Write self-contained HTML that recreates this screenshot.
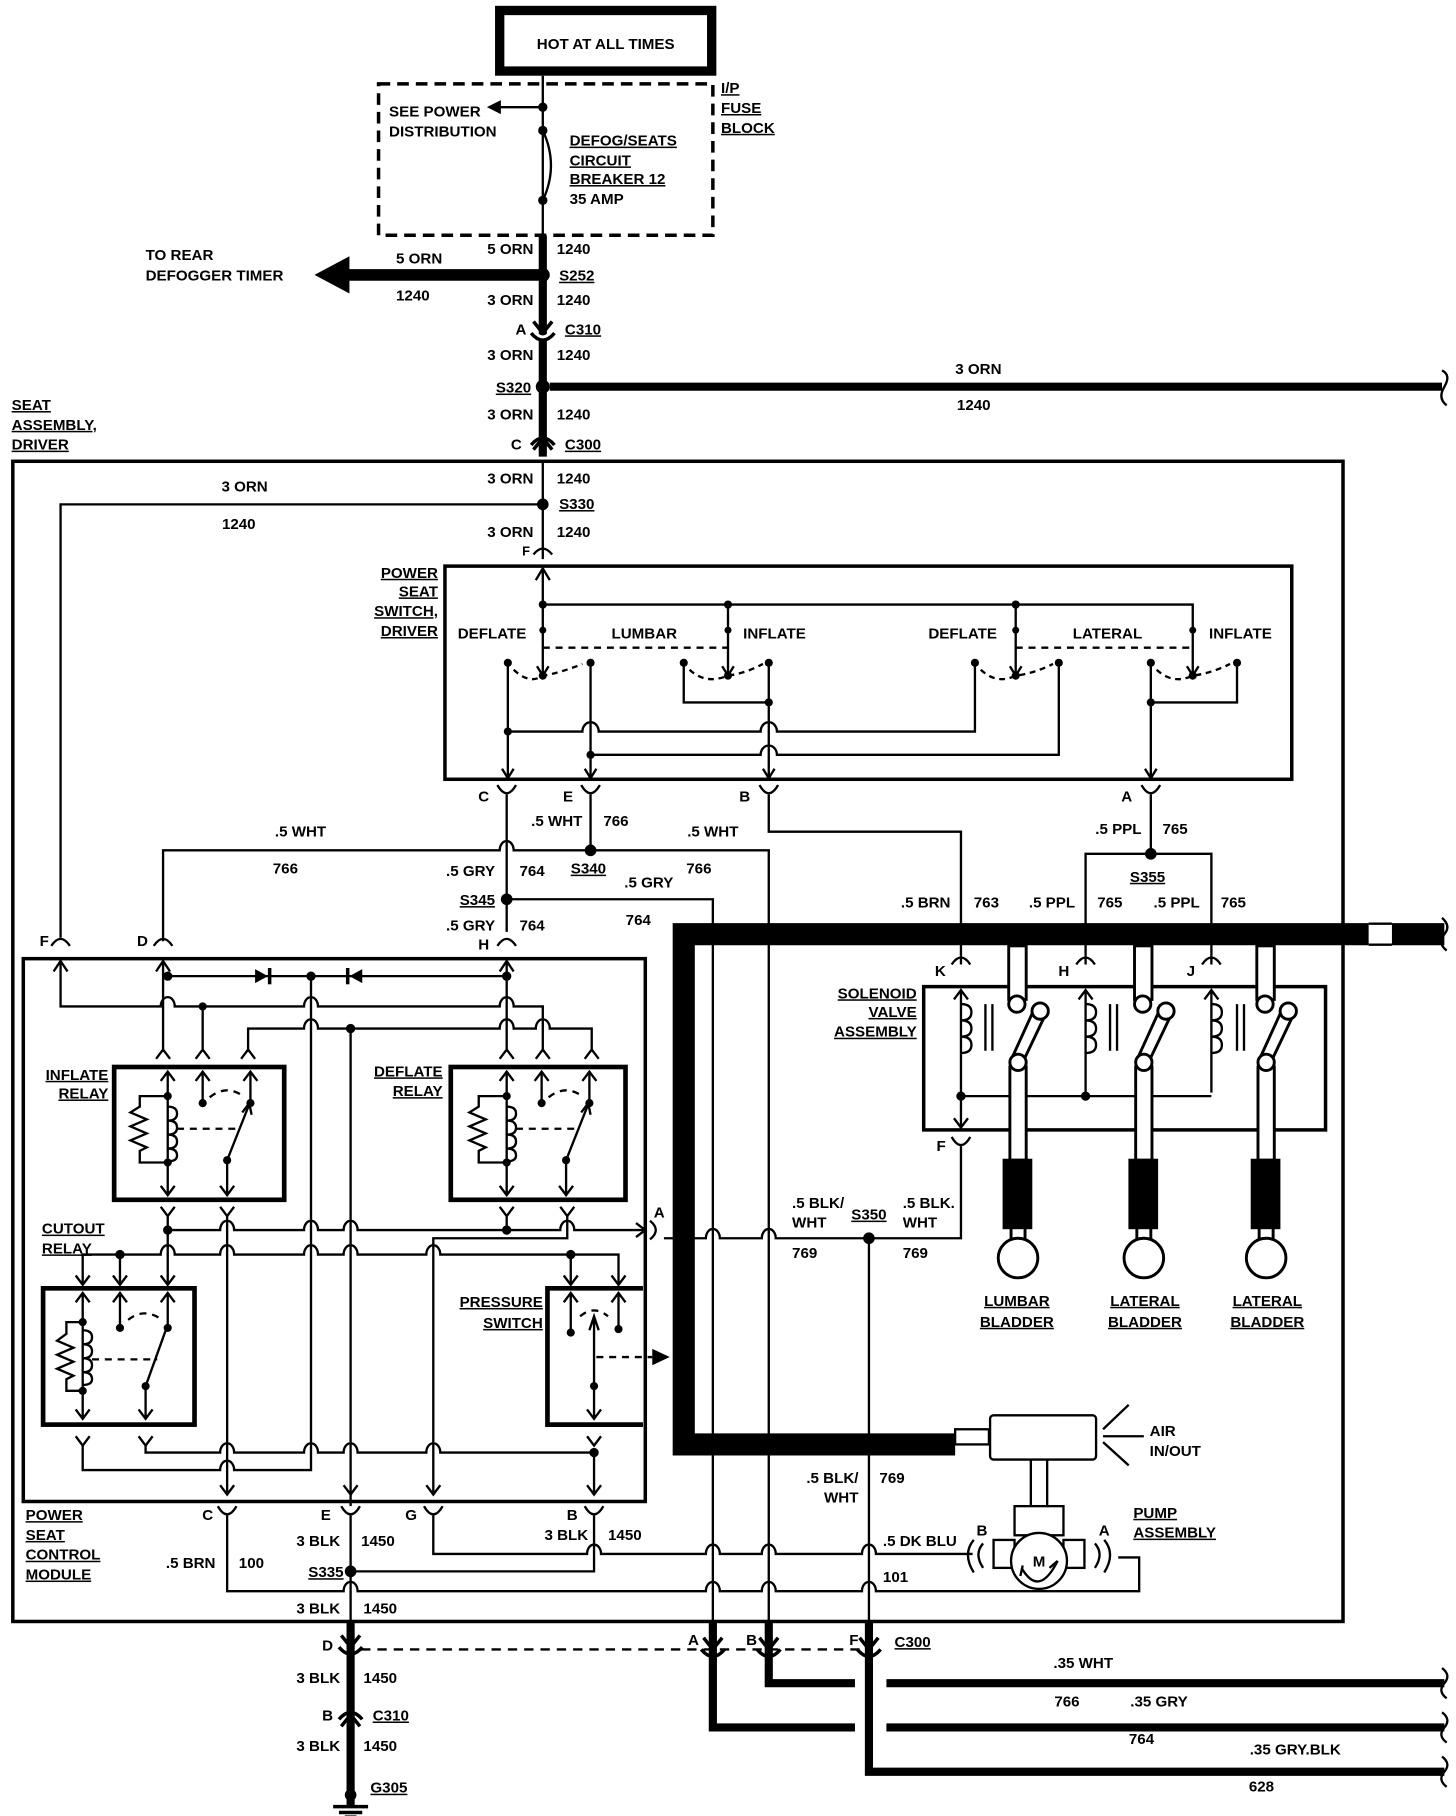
<!DOCTYPE html>
<html><head><meta charset="utf-8"><style>
html,body{margin:0;padding:0;background:#fff;}
svg{display:block;}
text{font-family:"Liberation Sans",sans-serif;font-weight:bold;font-size:13px;fill:#000;}
.u{text-decoration:underline;}
.e{text-anchor:end;}
.m{text-anchor:middle;}
</style></head><body>
<svg width="1456" height="1816" viewBox="0 0 1250 1559" preserveAspectRatio="none" xmlns="http://www.w3.org/2000/svg">
<rect width="1250" height="1559" fill="#fff"/>
<g fill="none" stroke="#000" stroke-width="2">
<!-- HOT AT ALL TIMES -->
<rect x="429" y="9" width="182" height="52" stroke-width="8"/>
<rect x="325" y="72" width="287" height="130" stroke-width="3" stroke-dasharray="10,6"/>
<path d="M466 65V172"/>
<path d="M466 92H428"/>
<path d="M466 112Q480 142 466 172"/>
<path d="M466 172V202"/>
<path d="M466 202V392" stroke-width="7"/>
<path d="M466 236H298" stroke-width="10"/>
<path d="M472 332H1238" stroke-width="7"/>
<path d="M1238 318Q1246 322 1240 332Q1234 342 1242 348"/>
<!-- C310 top -->
<path d="M458 276L466 286L474 276" stroke-width="3"/>
<path d="M457 283Q466 296 475 283" stroke-width="3" stroke="#fff"/>
<path d="M456 286Q466 298 476 286" stroke-width="3"/>
<!-- C300 -->
<path d="M456 382Q466 370 476 382" stroke-width="3"/>
<path d="M458 386L466 376L474 386" stroke-width="3"/>
<!-- seat box -->
<rect x="11" y="396" width="1142" height="996" stroke-width="3"/>
<path d="M466 396V480"/>
<path d="M466 433H52V805"/>
<path d="M458 476Q466 466 474 476"/>
<!-- power seat switch -->
<rect x="382" y="486" width="727" height="183" stroke-width="3"/>
<path d="M466 488V580M460 498L466 488L472 498"/>
<path d="M466 519H1024V580M625 519V580M872 519V580"/>
<path d="M466 556H625M872 556H1024" stroke-dasharray="6,5"/>
<path d="M461 572L466 580L471 572M620 572L625 580L630 572M867 572L872 580L877 572M1019 572L1024 580L1029 572"/>
<path d="M441 575Q455 588 466 580Q480 578 500 570M592 575Q606 588 625 580Q640 578 655 570M842 575Q856 588 872 580Q888 578 904 570M993 575Q1007 588 1024 580Q1040 578 1056 570" stroke-dasharray="5,4"/>
<path d="M436 569V668M507 569V668M587 569V603H660M660 569V668M837 569V628H667A7 8 0 0 0 653 628H514A7 8 0 0 0 500 628H436M909 569V648H667A7 8 0 0 0 653 648H507M988 569V668M988 603H1062V569"/>
<path d="M431 660L436 668L441 660M502 660L507 668L512 660M655 660L660 668L665 660M983 660L988 668L993 660"/>
<!-- connectors below switch -->
<path d="M427 674Q435 688 443 674M499 674Q507 688 515 674M652 674Q660 688 668 674M980 674Q988 688 996 674"/>
<path d="M435 682V800M507 682V730M660 682V714H825V820M988 682V733"/>
<path d="M140 808V730H429A6 8 0 0 1 441 730H660V1400"/>
<path d="M435 772H612V1400"/>
<path d="M932 820V733H1040V820"/>
<!-- top connectors of module -->
<path d="M44 812Q52 800 60 812M132 812Q140 800 148 812M427 812Q435 800 443 812"/>
<!-- thick pipe -->
<path d="M1175 802H587V1240H820" stroke-width="19"/>
<path d="M1195 802H1240" stroke-width="19"/>
<path d="M1175 793H1195M1175 811H1195" stroke-width="2"/>
<path d="M1238 788Q1246 795 1240 802Q1234 810 1242 816"/>
<!-- solenoid valve -->
<rect x="793" y="847" width="345" height="123" stroke-width="3"/>
<path d="M817 828Q825 816 833 828M924 828Q932 816 940 828M1032 828Q1040 816 1048 828"/>
<path d="M825 820V828M932 820V828M1040 820V828"/>
<path d="M825 851V968M819 858L825 850L831 858M819 960L825 968L831 960"/>
<path d="M932 851V941M926 858L932 850L938 858M1040 851V938M1034 858L1040 850L1046 858"/>
<path d="M825 941H1040"/>
<path d="M825 862q9 0 9 7q0 7-9 7q9 0 9 7q0 7-9 7q9 0 9 7q0 7-9 7M932 862q9 0 9 7q0 7-9 7q9 0 9 7q0 7-9 7q9 0 9 7q0 7-9 7M1040 862q9 0 9 7q0 7-9 7q9 0 9 7q0 7-9 7q9 0 9 7q0 7-9 7"/>
<path d="M846 862V902M852 862V902M953 862V902M959 862V902M1062 862V902M1068 862V902"/>
<path d="M817 976Q825 990 833 976M825 984V1063H746M746 1063V1400"/>
<path d="M570 1063H606A6 8 0 0 1 618 1063H654A6 8 0 0 1 666 1063H746"/>
</g>
<!-- valves -->
<g stroke="#000" stroke-width="2.5" fill="#fff">
<g id="v1">
<rect x="866" y="812" width="15" height="46"/>
<circle cx="873" cy="862" r="7"/>
<path d="M868 910L888 866M878 912L898 870"/>
<circle cx="893" cy="868" r="7"/>
<rect x="867" y="916" width="14" height="80"/>
<circle cx="874" cy="912" r="7"/>
<rect x="862" y="996" width="23" height="58" fill="#000"/>
<rect x="868" y="1054" width="12" height="12"/>
<circle cx="874" cy="1080" r="17"/>
</g>
<use href="#v1" x="108"/>
<use href="#v1" x="213"/>
</g>
<g fill="none" stroke="#000" stroke-width="2">
<!-- control module -->
<rect x="20" y="823" width="534" height="466" stroke-width="3"/>
<path d="M46 834L52 825L58 834M134 834L140 825L146 834M429 834L435 825L441 834"/>
<path d="M52 826V864H138A6 8 0 0 1 150 864H261A6 8 0 0 1 273 864H429A6 8 0 0 1 441 864H466V903"/>
<path d="M140 826V903M435 826V903M144 838H435M174 864V903"/>
<path d="M213 903V883H261A6 8 0 0 1 273 883H429A6 8 0 0 1 441 883H460A6 8 0 0 1 472 883H508V903"/>
<path d="M267 838V1262H201A6 8 0 0 0 189 1262H71V1240"/>
<path d="M301 883V1293"/>
<!-- top Y connectors of relays -->
<path d="M134 909L140 901L146 909M168 909L174 901L180 909M207 909L213 901L219 909M429 909L435 901L441 909M460 909L466 901L472 909M502 909L508 901L514 909"/>
<!-- inflate relay -->
<rect x="98" y="916" width="146" height="114" stroke-width="4"/>
<rect x="387" y="916" width="150" height="114" stroke-width="4"/>
<g id="rl">
<path d="M144 920V1025M138 928L144 920L150 928M138 1018L144 1026L150 1018M174 920V947M168 928L174 920L180 928M215 920V947M209 928L215 920L221 928M195 996V1025M189 1018L195 1026L201 1018"/>
<path d="M195 996L214 948M208 955L214 947L216 957"/>
<path d="M144 941H120V950L112 955L126 961L112 967L126 973L112 979L126 985L120 988V998H144"/>
<path d="M144 950q8 0 8 6q0 6-8 6q8 0 8 6q0 6-8 6q8 0 8 6q0 6-8 6q8 0 8 6q0 5-8 5"/>
<path d="M152 969H205M180 942Q195 930 210 942" stroke-dasharray="6,5"/>
</g>
<use href="#rl" x="291"/>
<!-- lower connectors -->
<path d="M138 1036L144 1044L150 1036M189 1036L195 1044L201 1036M429 1036L435 1044L441 1036M481 1036L487 1044L493 1036"/>
<path d="M144 1044V1103M195 1044V1281M435 1044V1056M487 1044V1063H372V1281"/>
<path d="M144 1056H189A6 8 0 0 1 201 1056H261A6 8 0 0 1 273 1056H295A6 8 0 0 1 307 1056H481A6 8 0 0 1 493 1056H552"/>
<path d="M546 1050L554 1056L546 1062M558 1048Q568 1056 558 1064"/>
<path d="M71 1103V1077H138A6 8 0 0 1 150 1077H189A6 8 0 0 1 201 1077H261A6 8 0 0 1 273 1077H295A6 8 0 0 1 307 1077H366A6 8 0 0 1 378 1077H531V1103M103 1077V1103M490 1077V1103"/>
<path d="M65 1095L71 1103L77 1095M97 1095L103 1103L109 1095M138 1095L144 1103L150 1095M484 1095L490 1103L496 1095M525 1095L531 1103L537 1095"/>
<!-- cutout relay -->
<rect x="37" y="1106" width="130" height="117" stroke-width="4"/>
<path d="M71 1110V1218M65 1118L71 1110L77 1118M65 1210L71 1218L77 1210M103 1110V1138M97 1118L103 1110L109 1118M144 1110V1138M138 1118L144 1110L150 1118M125 1190V1218M119 1210L125 1218L131 1210"/>
<path d="M125 1190L143 1140"/>
<path d="M71 1135H57V1145L49 1151L63 1157L49 1163L63 1169L49 1175L63 1181L57 1184V1194H71"/>
<path d="M71 1142q8 0 8 6q0 6-8 6q8 0 8 6q0 6-8 6q8 0 8 6q0 6-8 6q8 0 8 6q0 5-8 5"/>
<path d="M79 1167H135M110 1133Q124 1122 139 1133" stroke-dasharray="6,5"/>
<!-- pressure switch -->
<path d="M552 1106H470V1223H552" stroke-width="4"/>
<path d="M490 1110V1144M484 1118L490 1110L496 1118M531 1110V1141M525 1118L531 1110L537 1118M510 1190V1132M506 1142L510 1130L514 1142M510 1190V1218M504 1210L510 1218L516 1210"/>
<path d="M498 1130Q510 1120 522 1130M512 1165H560" stroke-dasharray="6,5"/>
<!-- bottom module lines -->
<path d="M65 1233L71 1241L77 1233M119 1233L125 1241L131 1233M504 1233L510 1241L516 1233"/>
<path d="M125 1241V1247H189A6 8 0 0 1 201 1247H261A6 8 0 0 1 273 1247H295A6 8 0 0 1 307 1247H366A6 8 0 0 1 378 1247H510V1281"/>
<path d="M189 1275L195 1283L201 1275M295 1275L301 1283L307 1275M366 1275L372 1283L378 1275M504 1275L510 1283L516 1275"/>
<path d="M187 1293Q195 1307 203 1293M293 1293Q301 1307 309 1293M364 1293Q372 1307 380 1293M502 1293Q510 1307 518 1293"/>
<path d="M195 1301V1366H295A6 8 0 0 1 307 1366H606A6 8 0 0 1 618 1366H654A6 8 0 0 1 666 1366H740A6 8 0 0 1 752 1366H978V1337H960"/>
<path d="M372 1301V1334H504A6 8 0 0 1 516 1334H606A6 8 0 0 1 618 1334H654A6 8 0 0 1 666 1334H740A6 8 0 0 1 752 1334H835"/>
<path d="M301 1301V1392M301 1349H510V1301"/>
<!-- pump -->
<rect x="820" y="1227" width="29" height="13"/>
<rect x="850" y="1215" width="91" height="38" rx="3"/>
<path d="M885 1253V1293M899 1253V1293"/>
<rect x="871" y="1293" width="42" height="25"/>
<rect x="853" y="1322" width="18" height="24"/>
<rect x="913" y="1322" width="18" height="24"/>
<circle cx="892" cy="1340" r="24" fill="#fff"/>
<path d="M877 1346Q892 1372 908 1340M878 1344l-2 9M908 1340l-7 6" />
<path d="M844 1325Q836 1334 844 1346M836 1322Q826 1334 836 1350M940 1325Q948 1334 940 1346M948 1322Q958 1334 948 1350"/>
<path d="M947 1233H982M947 1227L969 1206M947 1238L969 1258"/>
<!-- bottom connectors C300 -->
<path d="M301 1392V1550" stroke-width="7"/>
<path d="M293 1404L301 1414L309 1404M291 1414Q301 1426 311 1414" stroke-width="3"/>
<path d="M291 1476Q301 1464 311 1476M293 1482L301 1472L309 1482" stroke-width="3"/>
<path d="M310 1416H746" stroke-dasharray="8,6"/>
<path d="M612 1392V1483H734M660 1392V1445H734M746 1392V1521H1240M761 1445H1240M761 1483H1240" stroke-width="7"/>
<path d="M604 1406L612 1416L620 1406M602 1416Q612 1428 622 1416M652 1406L660 1416L668 1406M650 1416Q660 1428 670 1416M738 1406L746 1416L754 1406M736 1416Q746 1428 756 1416" stroke-width="3"/>
<path d="M1238 1432Q1246 1438 1240 1445Q1234 1452 1242 1458M1238 1470Q1246 1476 1240 1483Q1234 1490 1242 1496M1238 1508Q1246 1514 1240 1521Q1234 1528 1242 1534"/>
<!-- ground -->
<path d="M286 1551H316M291 1556H311M296 1560H306" stroke-width="3"/>
</g>
<!-- dots -->
<g fill="#000">
<circle cx="466" cy="92" r="4"/><circle cx="466" cy="112" r="4"/><circle cx="466" cy="172" r="4"/>
<circle cx="466" cy="236" r="6"/><circle cx="466" cy="332" r="6"/><circle cx="466" cy="433" r="5"/>
<polygon points="430,86 418,92 430,98"/>
<polygon points="300,220 270,236 300,252"/>
<circle cx="466" cy="519" r="3.5"/><circle cx="625" cy="519" r="3.5"/><circle cx="872" cy="519" r="3.5"/>
<circle cx="466" cy="541" r="3"/><circle cx="625" cy="541" r="3"/><circle cx="872" cy="541" r="3"/><circle cx="1024" cy="541" r="3"/>
<circle cx="466" cy="580" r="3.5"/><circle cx="625" cy="580" r="3.5"/><circle cx="872" cy="580" r="3.5"/><circle cx="1024" cy="580" r="3.5"/>
<circle cx="436" cy="569" r="3.5"/><circle cx="507" cy="569" r="3.5"/><circle cx="587" cy="569" r="3.5"/><circle cx="660" cy="569" r="3.5"/>
<circle cx="837" cy="569" r="3.5"/><circle cx="909" cy="569" r="3.5"/><circle cx="988" cy="569" r="3.5"/><circle cx="1062" cy="569" r="3.5"/>
<circle cx="660" cy="603" r="3.5"/><circle cx="988" cy="603" r="3.5"/><circle cx="436" cy="628" r="3.5"/><circle cx="507" cy="648" r="3.5"/>
<circle cx="507" cy="730" r="5"/><circle cx="435" cy="772" r="5"/><circle cx="988" cy="733" r="5"/>
<circle cx="825" cy="941" r="4"/><circle cx="932" cy="941" r="4"/>
<circle cx="746" cy="1063" r="5"/>
<circle cx="144" cy="838" r="4"/><circle cx="267" cy="838" r="4"/><circle cx="435" cy="838" r="4"/>
<circle cx="174" cy="864" r="3.5"/><circle cx="301" cy="883" r="4"/>
<polygon points="219,832 219,844 230,838"/><rect x="230" y="831" width="3" height="14"/>
<polygon points="311,832 311,844 300,838"/><rect x="297" y="831" width="3" height="14"/>
<circle cx="144" cy="941" r="3.5"/><circle cx="144" cy="998" r="3.5"/><circle cx="174" cy="947" r="3.5"/><circle cx="215" cy="947" r="3.5"/><circle cx="195" cy="996" r="3.5"/>
<circle cx="435" cy="941" r="3.5"/><circle cx="435" cy="998" r="3.5"/><circle cx="465" cy="947" r="3.5"/><circle cx="506" cy="947" r="3.5"/><circle cx="486" cy="996" r="3.5"/>
<circle cx="144" cy="1056" r="4"/><circle cx="435" cy="1056" r="4"/><circle cx="103" cy="1077" r="4"/><circle cx="490" cy="1077" r="4"/>
<circle cx="71" cy="1135" r="3.5"/><circle cx="71" cy="1194" r="3.5"/><circle cx="103" cy="1140" r="3.5"/><circle cx="144" cy="1140" r="3.5"/><circle cx="125" cy="1190" r="3.5"/>
<circle cx="490" cy="1144" r="3.5"/><circle cx="531" cy="1141" r="3.5"/><circle cx="510" cy="1190" r="3.5"/>
<polygon points="560,1158 575,1165 560,1172"/>
<circle cx="510" cy="1247" r="4"/><circle cx="301" cy="1349" r="5"/><circle cx="301" cy="1541" r="5"/>
</g>
<!-- text -->
<text x="520" y="42" class="m">HOT AT ALL TIMES</text>
<text x="619" y="80" class="u">I/P</text><text x="619" y="97" class="u">FUSE</text><text x="619" y="114" class="u">BLOCK</text>
<text x="334" y="100">SEE POWER</text><text x="334" y="117">DISTRIBUTION</text>
<text x="489" y="125" class="u">DEFOG/SEATS</text><text x="489" y="142" class="u">CIRCUIT</text><text x="489" y="158" class="u">BREAKER 12</text><text x="489" y="175">35 AMP</text>
<text x="458" y="218" class="e">5 ORN</text><text x="478" y="218">1240</text>
<text x="125" y="223">TO REAR</text><text x="125" y="241">DEFOGGER TIMER</text>
<text x="340" y="226">5 ORN</text><text x="340" y="258">1240</text>
<text x="480" y="241" class="u">S252</text>
<text x="458" y="262" class="e">3 ORN</text><text x="478" y="262">1240</text>
<text x="452" y="287" class="e">A</text><text x="485" y="287" class="u">C310</text>
<text x="458" y="309" class="e">3 ORN</text><text x="478" y="309">1240</text>
<text x="456" y="337" class="e u">S320</text>
<text x="840" y="321" class="m">3 ORN</text><text x="836" y="352" class="m">1240</text>
<text x="458" y="360" class="e">3 ORN</text><text x="478" y="360">1240</text>
<text x="10" y="352" class="u">SEAT</text><text x="10" y="369" class="u">ASSEMBLY,</text><text x="10" y="386" class="u">DRIVER</text>
<text x="448" y="386" class="e">C</text><text x="485" y="386" class="u">C300</text>
<text x="458" y="415" class="e">3 ORN</text><text x="478" y="415">1240</text>
<text x="480" y="437" class="u">S330</text>
<text x="210" y="422" class="m">3 ORN</text><text x="205" y="454" class="m">1240</text>
<text x="458" y="461" class="e">3 ORN</text><text x="478" y="461">1240</text>
<text x="455" y="477" class="e" style="font-size:11px">F</text>
<text x="376" y="496" class="e u">POWER</text><text x="376" y="512" class="e u">SEAT</text><text x="376" y="529" class="e u">SWITCH,</text><text x="376" y="546" class="e u">DRIVER</text>
<text x="393" y="548">DEFLATE</text><text x="525" y="548">LUMBAR</text><text x="638" y="548">INFLATE</text>
<text x="797" y="548">DEFLATE</text><text x="921" y="548">LATERAL</text><text x="1038" y="548">INFLATE</text>
<text x="420" y="688" class="e">C</text><text x="492" y="688" class="e">E</text><text x="644" y="688" class="e">B</text><text x="972" y="688" class="e">A</text>
<text x="500" y="709" class="e">.5 WHT</text><text x="518" y="709">766</text>
<text x="258" y="718" class="m">.5 WHT</text><text x="245" y="750" class="m">766</text>
<text x="612" y="718" class="m">.5 WHT</text><text x="600" y="750" class="m">766</text>
<text x="425" y="752" class="e">.5 GRY</text><text x="446" y="752">764</text>
<text x="490" y="750" class="u">S340</text>
<text x="557" y="762" class="m">.5 GRY</text><text x="548" y="794" class="m">764</text>
<text x="425" y="777" class="e u">S345</text>
<text x="425" y="799" class="e">.5 GRY</text><text x="446" y="799">764</text>
<text x="420" y="815" class="e">H</text>
<text x="42" y="812" class="e">F</text><text x="127" y="812" class="e">D</text>
<text x="980" y="716" class="e">.5 PPL</text><text x="998" y="716">765</text>
<text x="970" y="757" class="u">S355</text>
<text x="816" y="779" class="e">.5 BRN</text><text x="836" y="779">763</text>
<text x="923" y="779" class="e">.5 PPL</text><text x="942" y="779">765</text>
<text x="1030" y="779" class="e">.5 PPL</text><text x="1048" y="779">765</text>
<text x="787" y="857" class="e u">SOLENOID</text><text x="787" y="873" class="e u">VALVE</text><text x="787" y="890" class="e u">ASSEMBLY</text>
<text x="812" y="838" class="e">K</text><text x="918" y="838" class="e">H</text><text x="1026" y="838" class="e">J</text>
<text x="812" y="988" class="e">F</text>
<text x="93" y="927" class="e u">INFLATE</text><text x="93" y="943" class="e u">RELAY</text>
<text x="380" y="924" class="e u">DEFLATE</text><text x="380" y="941" class="e u">RELAY</text>
<text x="36" y="1059" class="u">CUTOUT</text><text x="36" y="1076" class="u">RELAY</text>
<text x="466" y="1122" class="e u">PRESSURE</text><text x="466" y="1140" class="e u">SWITCH</text>
<text x="566" y="1045" class="m">A</text>
<text x="680" y="1037">.5 BLK/</text><text x="680" y="1054">WHT</text>
<text x="746" y="1047" class="m u">S350</text>
<text x="775" y="1037">.5 BLK.</text><text x="775" y="1054">WHT</text>
<text x="680" y="1080">769</text><text x="775" y="1080">769</text>
<text x="873" y="1121" class="m u">LUMBAR</text><text x="873" y="1139" class="m u">BLADDER</text>
<text x="983" y="1121" class="m u">LATERAL</text><text x="983" y="1139" class="m u">BLADDER</text>
<text x="1088" y="1121" class="m u">LATERAL</text><text x="1088" y="1139" class="m u">BLADDER</text>
<text x="987" y="1233">AIR</text><text x="987" y="1250">IN/OUT</text>
<text x="973" y="1303" class="u">PUMP</text><text x="973" y="1320" class="u">ASSEMBLY</text>
<text x="843" y="1318" class="m">B</text><text x="948" y="1318" class="m">A</text>
<text x="892" y="1345" class="m">M</text>
<text x="737" y="1273" class="e">.5 BLK/</text><text x="737" y="1290" class="e">WHT</text><text x="755" y="1273">769</text>
<text x="758" y="1327">.5 DK BLU</text><text x="758" y="1358">101</text>
<text x="22" y="1305" class="u">POWER</text><text x="22" y="1322" class="u">SEAT</text><text x="22" y="1339" class="u">CONTROL</text><text x="22" y="1356" class="u">MODULE</text>
<text x="183" y="1305" class="e">C</text><text x="284" y="1305" class="e">E</text><text x="358" y="1305" class="e">G</text><text x="496" y="1305" class="e">B</text>
<text x="292" y="1327" class="e">3 BLK</text><text x="310" y="1327">1450</text>
<text x="505" y="1322" class="e">3 BLK</text><text x="522" y="1322">1450</text>
<text x="185" y="1346" class="e">.5 BRN</text><text x="205" y="1346">100</text>
<text x="295" y="1354" class="e u">S335</text>
<text x="292" y="1385" class="e">3 BLK</text><text x="312" y="1385">1450</text>
<text x="286" y="1417" class="e">D</text>
<text x="600" y="1412" class="e">A</text><text x="650" y="1412" class="e">B</text><text x="737" y="1412" class="e">F</text>
<text x="768" y="1414" class="u">C300</text>
<text x="292" y="1445" class="e">3 BLK</text><text x="312" y="1445">1450</text>
<text x="286" y="1477" class="e">B</text><text x="320" y="1477" class="u">C310</text>
<text x="292" y="1503" class="e">3 BLK</text><text x="312" y="1503">1450</text>
<text x="318" y="1539" class="u">G305</text>
<text x="930" y="1432" class="m">.35 WHT</text><text x="916" y="1465" class="m">766</text>
<text x="995" y="1465" class="m">.35 GRY</text><text x="980" y="1497" class="m">764</text>
<text x="1112" y="1506" class="m">.35 GRY.BLK</text><text x="1083" y="1538" class="m">628</text>
</svg>
</body></html>
